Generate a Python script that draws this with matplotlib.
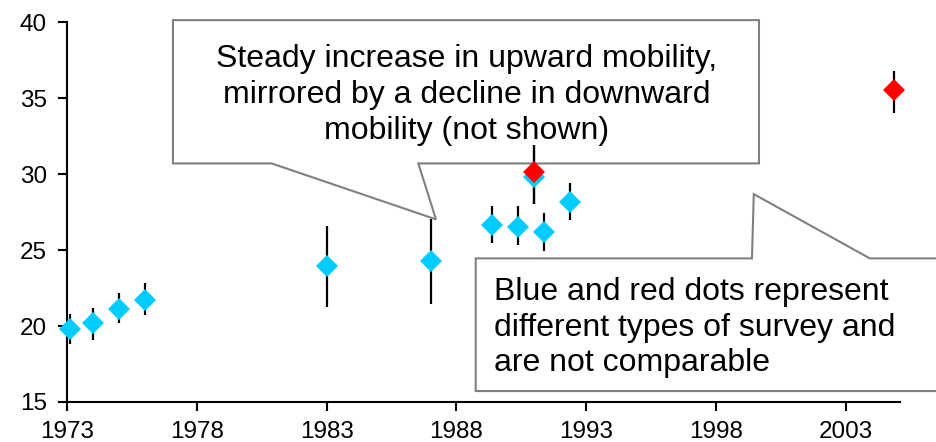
"""Upward mobility survey estimates with callouts."""

import matplotlib

matplotlib.use("Agg")
import matplotlib.pyplot as plt
from matplotlib.patches import Polygon

plt.rcParams["font.family"] = ["Liberation Sans", "DejaVu Sans"]

# blue survey series
blue_years = [1973.1, 1974.0, 1975.0, 1976.0, 1983.0, 1987.0, 1989.37, 1990.38, 1991.0, 1991.36, 1992.37]
blue_values = [19.8, 20.2, 21.15, 21.7, 23.95, 24.3, 26.62, 26.53, 29.8, 26.2, 28.18]
blue_low = [18.8, 19.1, 20.2, 20.75, 21.25, 21.45, 25.44, 25.3, 28.05, 24.96, 26.97]
blue_high = [20.8, 21.2, 22.2, 22.85, 26.6, 27.02, 27.89, 27.89, 31.9, 27.42, 29.39]

# red survey series
red_years = [1991.0, 2004.85]
red_values = [30.15, 35.5]
red_low = [28.05, 34.0]
red_high = [31.9, 36.8]

x_ticks = [1973, 1978, 1983, 1988, 1993, 1998, 2003]
y_ticks = [15, 20, 25, 30, 35, 40]

note_top = "Steady increase in upward mobility,\nmirrored by a decline in downward\nmobility (not shown)"
note_bottom = "Blue and red dots represent\ndifferent types of survey and\nare not comparable"

# callout outlines (data coordinates)
callout_top = [
    (1977.08, 40.13), (1999.65, 40.13), (1999.65, 30.7), (1986.53, 30.7),
    (1987.21, 27.02), (1980.88, 30.7), (1977.08, 30.7),
]
callout_bottom = [
    (1988.74, 24.45), (1999.38, 24.45), (1999.45, 28.68), (2003.92, 24.45),
    (2010.0, 24.45), (2010.0, 15.72), (1988.74, 15.72),
]


def draw_series(axis, years, values, low, high, color):
    err = [[v - lo for v, lo in zip(values, low)], [hi - v for v, hi in zip(values, high)]]
    axis.errorbar(
        years, values, yerr=err, fmt="none", ecolor="black",
        elinewidth=1.6, capsize=0, zorder=3, clip_on=False,
    )
    axis.plot(
        years, values, linestyle="none", marker="D", markersize=11,
        color=color, markeredgewidth=0, zorder=4, clip_on=False,
    )


figure = plt.figure(figsize=(9.36, 4.42), dpi=100)
axis = figure.add_axes([0.0716, 0.0905, 0.8899, 0.8595])

for shape in (callout_top, callout_bottom):
    axis.add_patch(Polygon(
        shape, closed=True, facecolor="white", edgecolor="#808080",
        linewidth=1.5, zorder=1.5, clip_on=False,
    ))

draw_series(axis, blue_years, blue_values, blue_low, blue_high, "#00CCFF")
draw_series(axis, red_years, red_values, red_low, red_high, "#FF0000")

axis.text(1988.4, 35.2, note_top, ha="center", va="center", fontsize=23,
          linespacing=1.27, zorder=5)
axis.text(1989.45, 19.9, note_bottom, ha="left", va="center", fontsize=23,
          linespacing=1.22, zorder=5)

axis.set_xlim(1973, 2005.08)
axis.set_ylim(15, 40)
axis.set_xticks(x_ticks)
axis.set_yticks(y_ticks)
axis.tick_params(direction="out", length=6.5, width=1.5, labelsize=17.5)
axis.tick_params(axis="x", pad=7)
axis.tick_params(axis="y", pad=8)
for side in ("top", "right"):
    axis.spines[side].set_visible(False)
for side in ("left", "bottom"):
    axis.spines[side].set_linewidth(1.5)
axis.set_facecolor("none")

figure.savefig("out.png", dpi=100)
